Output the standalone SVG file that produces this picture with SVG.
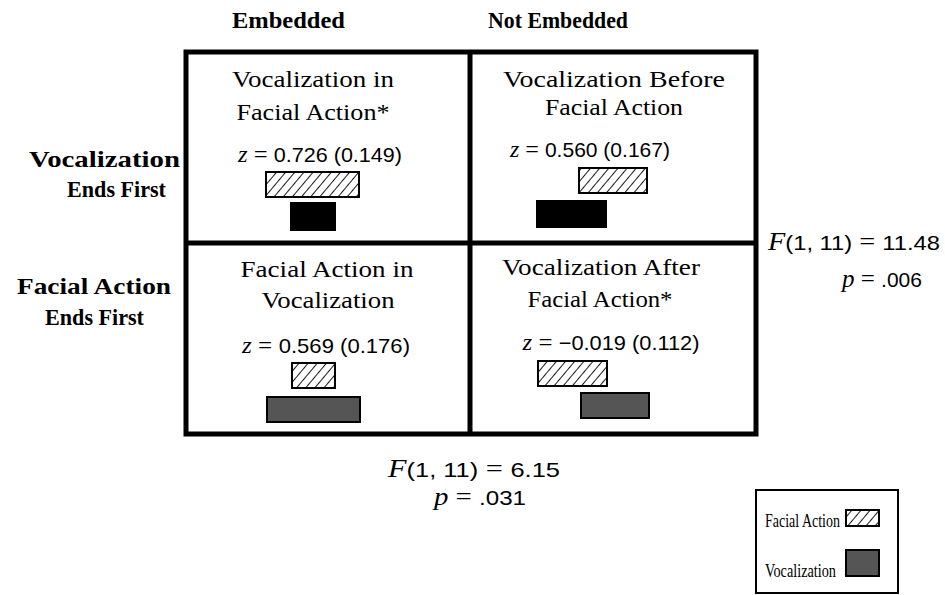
<svg xmlns="http://www.w3.org/2000/svg" width="945" height="595" viewBox="0 0 945 595">
<style>
.t{font-family:"Liberation Serif","Times New Roman",serif;font-size:24px;fill:#000;text-anchor:middle}
.s{font-family:"Liberation Serif","Times New Roman",serif;font-size:25px;fill:#000}
.h{font-family:"Liberation Serif","Times New Roman",serif;font-size:23px;font-weight:bold;fill:#000}
.n{font-family:"Liberation Sans",Arial,sans-serif;font-size:21px}
.i{font-style:italic}
.lg{font-family:"Liberation Serif","Times New Roman",serif;font-size:19px;fill:#000}
.frame{fill:none;stroke:#000;stroke-width:5}
.hb{fill:url(#hatch);stroke:#000;stroke-width:2}
.blk{fill:#000;stroke:#000;stroke-width:2}
.gry{fill:#555;stroke:#000;stroke-width:2}
</style>
<defs>
<pattern id="hatch" width="7" height="7" patternUnits="userSpaceOnUse" patternTransform="rotate(40)">
<rect width="7" height="7" fill="#fff"/>
<line x1="0" y1="0" x2="0" y2="7" stroke="#000" stroke-width="1.8"/>
</pattern>
</defs>
<rect width="945" height="595" fill="#fff"/>

<g id="headers">
<text class="h" x="232" y="28" textLength="113" lengthAdjust="spacingAndGlyphs">Embedded</text>
<text class="h" x="488" y="28" textLength="140" lengthAdjust="spacingAndGlyphs">Not Embedded</text>
</g>
<g id="row-labels">
<text class="h" x="29" y="167" textLength="151" lengthAdjust="spacingAndGlyphs">Vocalization</text>
<text class="h" x="67" y="197" textLength="99" lengthAdjust="spacingAndGlyphs">Ends First</text>
<text class="h" x="17" y="294" textLength="154" lengthAdjust="spacingAndGlyphs">Facial Action</text>
<text class="h" x="45" y="325" textLength="99" lengthAdjust="spacingAndGlyphs">Ends First</text>
</g>

<g id="connectors">
<rect class="frame" x="186" y="52" width="570" height="382"/>
<line class="frame" x1="470" y1="52" x2="470" y2="434"/>
<line class="frame" x1="186" y1="243" x2="756" y2="243"/>
</g>

<g id="cell-embedded-vocfirst">
<text class="t" x="313" y="87" textLength="162" lengthAdjust="spacingAndGlyphs">Vocalization in</text>
<text class="t" x="313" y="120" textLength="153" lengthAdjust="spacingAndGlyphs">Facial Action*</text>
<text class="t" x="320" y="162" textLength="164" lengthAdjust="spacingAndGlyphs"><tspan class="i">z</tspan> = <tspan class="n">0.726 (0.149)</tspan></text>
<rect class="hb" x="266" y="172" width="93" height="25"/>
<rect class="blk" x="291" y="203" width="44" height="27"/>
</g>

<g id="cell-notembedded-vocfirst">
<text class="t" x="614" y="87" textLength="222" lengthAdjust="spacingAndGlyphs">Vocalization Before</text>
<text class="t" x="614" y="115" textLength="138" lengthAdjust="spacingAndGlyphs">Facial Action</text>
<text class="t" x="590" y="157" textLength="160" lengthAdjust="spacingAndGlyphs"><tspan class="i">z</tspan> = <tspan class="n">0.560 (0.167)</tspan></text>
<rect class="hb" x="579" y="168" width="68" height="25"/>
<rect class="blk" x="537" y="201" width="69" height="26"/>
</g>

<g id="cell-embedded-facefirst">
<text class="t" x="327" y="277" textLength="173" lengthAdjust="spacingAndGlyphs">Facial Action in</text>
<text class="t" x="328" y="308" textLength="133" lengthAdjust="spacingAndGlyphs">Vocalization</text>
<text class="t" x="326" y="353" textLength="168" lengthAdjust="spacingAndGlyphs"><tspan class="i">z</tspan> = <tspan class="n">0.569 (0.176)</tspan></text>
<rect class="hb" x="292" y="363" width="43" height="25"/>
<rect class="gry" x="267" y="397" width="93" height="25"/>
</g>

<g id="cell-notembedded-facefirst">
<text class="t" x="601" y="275" textLength="198" lengthAdjust="spacingAndGlyphs">Vocalization After</text>
<text class="t" x="600" y="307" textLength="145" lengthAdjust="spacingAndGlyphs">Facial Action*</text>
<text class="t" x="611" y="350" textLength="177" lengthAdjust="spacingAndGlyphs"><tspan class="i">z</tspan> = <tspan class="n">−0.019 (0.112)</tspan></text>
<rect class="hb" x="538" y="361" width="69" height="25"/>
<rect class="gry" x="581" y="393" width="68" height="25"/>
</g>

<g id="stat-row">
<text class="s" x="768" y="250" textLength="172" lengthAdjust="spacingAndGlyphs"><tspan class="i">F</tspan><tspan class="n">(1, 11)</tspan> = <tspan class="n">11.48</tspan></text>
<text class="s" x="842" y="287"><tspan class="i">p</tspan> = <tspan class="n">.006</tspan></text>
</g>

<g id="stat-col">
<text class="s" x="388" y="477" textLength="172" lengthAdjust="spacingAndGlyphs"><tspan class="i">F</tspan><tspan class="n">(1, 11)</tspan> = <tspan class="n">6.15</tspan></text>
<text class="s" x="434" y="505" textLength="92" lengthAdjust="spacingAndGlyphs"><tspan class="i">p</tspan> = <tspan class="n">.031</tspan></text>
</g>

<g id="legend">
<rect x="756" y="490" width="142" height="103" fill="#fff" stroke="#000" stroke-width="2"/>
<text class="lg" x="765" y="527" textLength="75" lengthAdjust="spacingAndGlyphs">Facial Action</text>
<rect class="hb" x="846" y="510" width="33" height="16"/>
<text class="lg" x="765" y="577" textLength="71" lengthAdjust="spacingAndGlyphs">Vocalization</text>
<rect class="gry" x="846" y="550" width="33" height="26"/>
</g>
</svg>
